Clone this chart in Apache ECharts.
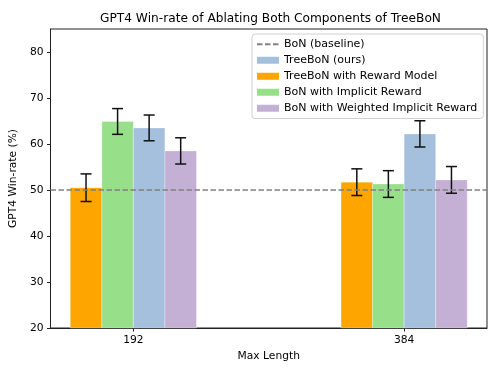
<!DOCTYPE html>
<html>
<head>
<meta charset="utf-8">
<script src="https://cdn.jsdelivr.net/npm/echarts@6/dist/echarts.min.js"></script>
<style>html,body{margin:0;padding:0;background:#fff}#c{width:498px;height:374px}</style>
</head>
<body>
<div id="c"></div>
<script>
// ---- data ----
const categories = ['192', '384'];
const baselineName = 'BoN (baseline)';
const baselineValue = 50;
const rewardModelName = 'TreeBoN with Reward Model';
const rewardModel = [50.5, 51.7];
const rewardModelErr = [3.0, 2.9];
const implicitName = 'BoN with Implicit Reward';
const implicitReward = [64.9, 51.3];
const implicitRewardErr = [2.8, 2.9];
const treebonName = 'TreeBoN (ours)';
const treebon = [63.5, 62.2];
const treebonErr = [2.8, 2.85];
const weightedName = 'BoN with Weighted Implicit Reward';
const weightedReward = [58.5, 52.2];
const weightedRewardErr = [2.85, 2.9];
const yTicks = [20, 30, 40, 50, 60, 70, 80];

// ---- styling / layout ----
const FONT = 'DejaVu Sans';
const barW = 0.1165;
const yMin = 20, yMax = 85;
const xMin = -0.306, xMax = 1.306;
const groups = [
  {name: rewardModelName, vals: rewardModel, errs: rewardModelErr, color: '#ffa500', off: -1.5},
  {name: implicitName, vals: implicitReward, errs: implicitRewardErr, color: '#98df8a', off: -0.5},
  {name: treebonName, vals: treebon, errs: treebonErr, color: '#a4c0dc', off: 0.5},
  {name: weightedName, vals: weightedReward, errs: weightedRewardErr, color: '#c5b0d5', off: 1.5}
];

function makeRender(off, color) {
  return function (params, api) {
    const xi = api.value(0), v = api.value(1), e = api.value(2);
    const cx = xi + off * barW;
    const p0 = api.coord([cx - barW / 2, v]);
    const p1 = api.coord([cx + barW / 2, yMin]);
    const pt = api.coord([cx, v + e]);
    const pb = api.coord([cx, v - e]);
    const cap = 5.5;
    const ls = {stroke: '#111', lineWidth: 1.5};
    return {
      type: 'group',
      children: [
        {type: 'rect', shape: {x: p0[0], y: p0[1], width: p1[0] - p0[0], height: p1[1] - p0[1]},
         style: {fill: color, stroke: 'rgba(255,255,255,0.6)', lineWidth: 0.5}},
        {type: 'line', z2: 10, shape: {x1: pt[0], y1: pt[1], x2: pb[0], y2: pb[1]}, style: ls},
        {type: 'line', z2: 10, shape: {x1: pt[0] - cap, y1: pt[1], x2: pt[0] + cap, y2: pt[1]}, style: ls},
        {type: 'line', z2: 10, shape: {x1: pb[0] - cap, y1: pb[1], x2: pb[0] + cap, y2: pb[1]}, style: ls}
      ]
    };
  };
}

const series = [{
  name: baselineName,
  type: 'line',
  data: [],
  symbol: 'none',
  lineStyle: {color: '#808080', type: [5.5, 2.5], width: 1.5},
  itemStyle: {color: '#808080'},
  z: 5,
  markLine: {
    silent: true, symbol: 'none', label: {show: false},
    lineStyle: {color: '#808080', type: [5.5, 2.5], width: 1.5},
    data: [{yAxis: baselineValue}]
  }
}];
groups.forEach(g => {
  series.push({
    name: g.name,
    type: 'custom',
    itemStyle: {color: g.color},
    renderItem: makeRender(g.off, g.color),
    data: categories.map((c, i) => [i, g.vals[i], g.errs[i]]),
    z: 2
  });
});

const chart = echarts.init(document.getElementById('c'), null, {renderer: 'canvas'});
chart.setOption({
  animation: false,
  backgroundColor: '#fff',
  title: {
    text: 'GPT4 Win-rate of Ablating Both Components of TreeBoN',
    left: 95, top: 8,
    textStyle: {fontFamily: FONT, fontSize: 12.2, fontWeight: 'normal', color: '#000'}
  },
  grid: {left: 48, right: 11, top: 29, bottom: 46, show: true, borderColor: '#222', borderWidth: 1},
  legend: {
    orient: 'vertical',
    left: 252, top: 34,
    itemWidth: 22, itemHeight: 7, itemGap: 3.5,
    padding: [4, 6, 4, 4],
    borderColor: '#d0d0d0', borderWidth: 1, borderRadius: 3,
    backgroundColor: 'rgba(255,255,255,0.85)',
    textStyle: {fontFamily: FONT, fontSize: 11, color: '#000', lineHeight: 12.5},
    data: [
      {name: baselineName, itemStyle: {opacity: 0}},
      {name: treebonName, icon: 'rect'},
      {name: rewardModelName, icon: 'rect'},
      {name: implicitName, icon: 'rect'},
      {name: weightedName, icon: 'rect'}
    ]
  },
  xAxis: {
    type: 'value', min: xMin, max: xMax,
    name: 'Max Length', nameLocation: 'middle', nameGap: 21,
    nameTextStyle: {fontFamily: FONT, fontSize: 10.7, color: '#000'},
    splitLine: {show: false},
    axisLine: {show: true, onZero: false, lineStyle: {color: '#222', width: 1}},
    axisTick: {show: true, length: 3.5, lineStyle: {color: '#222'}, customValues: categories.map((c, i) => i)},
    axisLabel: {fontFamily: FONT, fontSize: 10.7, color: '#000', margin: 7,
      customValues: categories.map((c, i) => i),
      formatter: v => categories[Math.round(v)]}
  },
  yAxis: {
    type: 'value', min: yMin, max: yMax,
    name: 'GPT4 Win-rate (%)', nameLocation: 'middle', nameGap: 21,
    nameTextStyle: {fontFamily: FONT, fontSize: 10.7, color: '#000'},
    splitLine: {show: false},
    axisLine: {show: true, onZero: false, lineStyle: {color: '#222', width: 1}},
    axisTick: {show: true, length: 3.5, lineStyle: {color: '#222'}, customValues: yTicks},
    axisLabel: {fontFamily: FONT, fontSize: 10.7, color: '#000', margin: 7, customValues: yTicks}
  },
  series: series
});
</script>
</body>
</html>
